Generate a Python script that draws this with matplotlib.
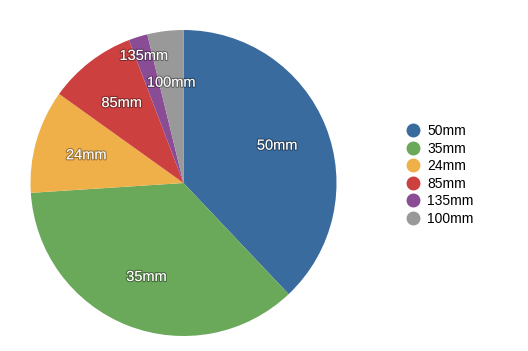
import matplotlib
matplotlib.use("Agg")
import numpy as np
import matplotlib.pyplot as plt
import matplotlib.patheffects as pe
from matplotlib.lines import Line2D

plt.rcParams['font.family'] = ['Liberation Sans', 'DejaVu Sans']

labels = ['50mm', '35mm', '24mm', '85mm', '135mm', '100mm']
shares = [37.9, 36.0, 10.9, 9.3, 2.0, 3.8]
colors = ['#3a6b9e', '#6aa85a', '#efb04a', '#cc4140', '#8a4c94', '#999999']

fig = plt.figure(figsize=(5.28, 3.51), dpi=100)
fig.set_facecolor('w')
ax = fig.add_axes([30.5 / 528, 15 / 351, 306 / 528, 306 / 351])

wedges, texts = ax.pie(shares, labels=labels, colors=colors, startangle=90,
                       counterclock=False, labeldistance=0.66,
                       wedgeprops=dict(linewidth=0))
for w, t in zip(wedges, texts):
    t.set_color('white')
    t.set_fontsize(10.5)
    t.set_ha('center')
    t.set_va('center')
    t.set_path_effects([pe.Stroke(linewidth=1.6, foreground=(0, 0, 0, 0.35)), pe.Normal()])
    if t.get_text() == '135mm':
        # small slice: label pushed outward
        mid = np.deg2rad((w.theta1 + w.theta2) / 2)
        t.set_position((0.87 * np.cos(mid), 0.87 * np.sin(mid)))
ax.set_xlim(-1, 1)
ax.set_ylim(-1, 1)
ax.set_aspect('equal')

handles = [Line2D([], [], marker='o', linestyle='', markersize=9,
                  markerfacecolor=c, markeredgecolor=c) for c in colors]
fig.legend(handles, labels, loc='center left', bbox_to_anchor=(392 / 528, 1 - 175 / 351),
           frameon=False, fontsize=10, handletextpad=0.45, labelspacing=0.25,
           handlelength=1.2)

fig.savefig('out.png', dpi=100)
